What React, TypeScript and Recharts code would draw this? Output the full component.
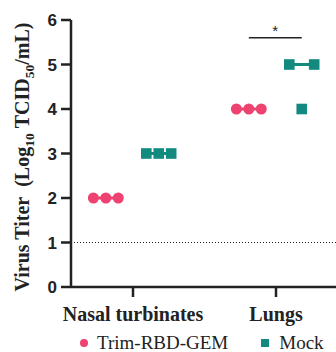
import { ScatterChart, Scatter, XAxis, YAxis, ReferenceLine } from 'recharts'

const groups = ['Nasal turbinates', 'Lungs']
const trimValues = [[2, 2, 2], [4, 4, 4]]
const mockValues = [[3, 3, 3], [5, 4, 5]]
const yTicks = [0, 1, 2, 3, 4, 5, 6]
const limitOfDetection = 1
const sigBracket = { group: 1, y: 5.6, label: '*' }

const PINK = '#EE4270'
const TEAL = '#128A80'
const INK = '#222222'
const TRIM_OFFSET = -0.19
const MOCK_OFFSET = 0.18
const JITTER = 0.087

const toPoints = (values: number[][], offset: number) =>
  groups.flatMap((_, gi) =>
    values[gi].map((v, j) => ({ x: gi + offset + (j - 1) * JITTER, y: v }))
  )

const median = (arr: number[]) => [...arr].sort((a, b) => a - b)[Math.floor(arr.length / 2)]

const trimPoints = toPoints(trimValues, TRIM_OFFSET)
const mockPoints = toPoints(mockValues, MOCK_OFFSET)

const Dot = (p: any) => <circle cx={p.cx} cy={p.cy} r={5.5} fill={PINK} />
const Square = (p: any) => <rect x={p.cx - 5.3} y={p.cy - 5.3} width={10.6} height={10.6} fill={TEAL} />

const YTick = (p: any) => (
  <text x={p.x} y={p.y} dy={6} textAnchor="end" fontFamily="Liberation Sans" fontWeight="bold" fontSize={17} fill={INK}>
    {p.payload.value}
  </text>
)

const XTick = (p: any) => (
  <text x={p.x} y={321} textAnchor="middle" fontFamily="Liberation Serif" fontWeight="bold" fontSize={20} fill={INK}>
    {groups[p.payload.value]}
  </text>
)

const YLabel = () => (
  <text transform="translate(28.5,157) rotate(-90)" textAnchor="middle" fontFamily="Liberation Serif" fontWeight="bold" fontSize={20} fill={INK}>
    {'Virus Titer\u00a0\u00a0(Log'}
    <tspan fontSize={13.5} dy={5}>10</tspan>
    <tspan dy={-5}>{'\u00a0TCID'}</tspan>
    <tspan fontSize={13.5} dy={5}>50</tspan>
    <tspan dy={-5}>/mL)</tspan>
  </text>
)

export default function App() {
  return (
    <div style={{ position: 'absolute', left: 0, top: 0, width: 336, height: 352, background: '#fff' }}>
      <ScatterChart width={336} height={352} margin={{ top: 20, right: 0, bottom: 0, left: 0 }}>
        <XAxis
          type="number"
          dataKey="x"
          domain={[-0.4336, 1.4196]}
          ticks={[0, 1]}
          tick={<XTick />}
          tickSize={10}
          height={65}
          stroke={INK}
          strokeWidth={2.5}
          allowDataOverflow
        />
        <YAxis
          type="number"
          dataKey="y"
          domain={[0, 6]}
          ticks={yTicks}
          tick={<YTick />}
          tickSize={10}
          tickMargin={4}
          width={71}
          stroke={INK}
          strokeWidth={2.5}
          label={<YLabel />}
        />
        <ReferenceLine y={limitOfDetection} stroke={INK} strokeDasharray="1 2" strokeWidth={1} />
        {groups.map((_, gi) => (
          <ReferenceLine
            key={'tm' + gi}
            segment={[
              { x: gi + TRIM_OFFSET - JITTER, y: median(trimValues[gi]) },
              { x: gi + TRIM_OFFSET + JITTER, y: median(trimValues[gi]) },
            ]}
            stroke={PINK}
            strokeWidth={3}
          />
        ))}
        {groups.map((_, gi) => (
          <ReferenceLine
            key={'mm' + gi}
            segment={[
              { x: gi + MOCK_OFFSET - JITTER, y: median(mockValues[gi]) },
              { x: gi + MOCK_OFFSET + JITTER, y: median(mockValues[gi]) },
            ]}
            stroke={TEAL}
            strokeWidth={3}
          />
        ))}
        <ReferenceLine
          segment={[
            { x: sigBracket.group + TRIM_OFFSET, y: sigBracket.y },
            { x: sigBracket.group + MOCK_OFFSET, y: sigBracket.y },
          ]}
          stroke={INK}
          strokeWidth={1.5}
          label={{ value: sigBracket.label, position: 'top', fill: INK, fontSize: 15, fontFamily: 'Liberation Sans', offset: 2 }}
        />
        <Scatter name="Trim-RBD-GEM" data={trimPoints} shape={Dot} isAnimationActive={false} />
        <Scatter name="Mock" data={mockPoints} shape={Square} isAnimationActive={false} />
      </ScatterChart>
      <div
        style={{
          position: 'absolute',
          left: 0,
          top: 333,
          width: 336,
          display: 'flex',
          alignItems: 'center',
          fontFamily: 'Liberation Serif',
          fontSize: 19,
          color: INK,
          lineHeight: '19px',
          whiteSpace: 'nowrap',
        }}
      >
        <svg width={10} height={10} style={{ marginLeft: 79, marginRight: 8 }}>
          <circle cx={5} cy={5} r={4} fill={PINK} />
        </svg>
        <span>Trim-RBD-GEM</span>
        <svg width={8} height={8} style={{ marginLeft: 33, marginRight: 10 }}>
          <rect x={0} y={0} width={8} height={8} fill={TEAL} />
        </svg>
        <span>Mock</span>
      </div>
    </div>
  )
}
